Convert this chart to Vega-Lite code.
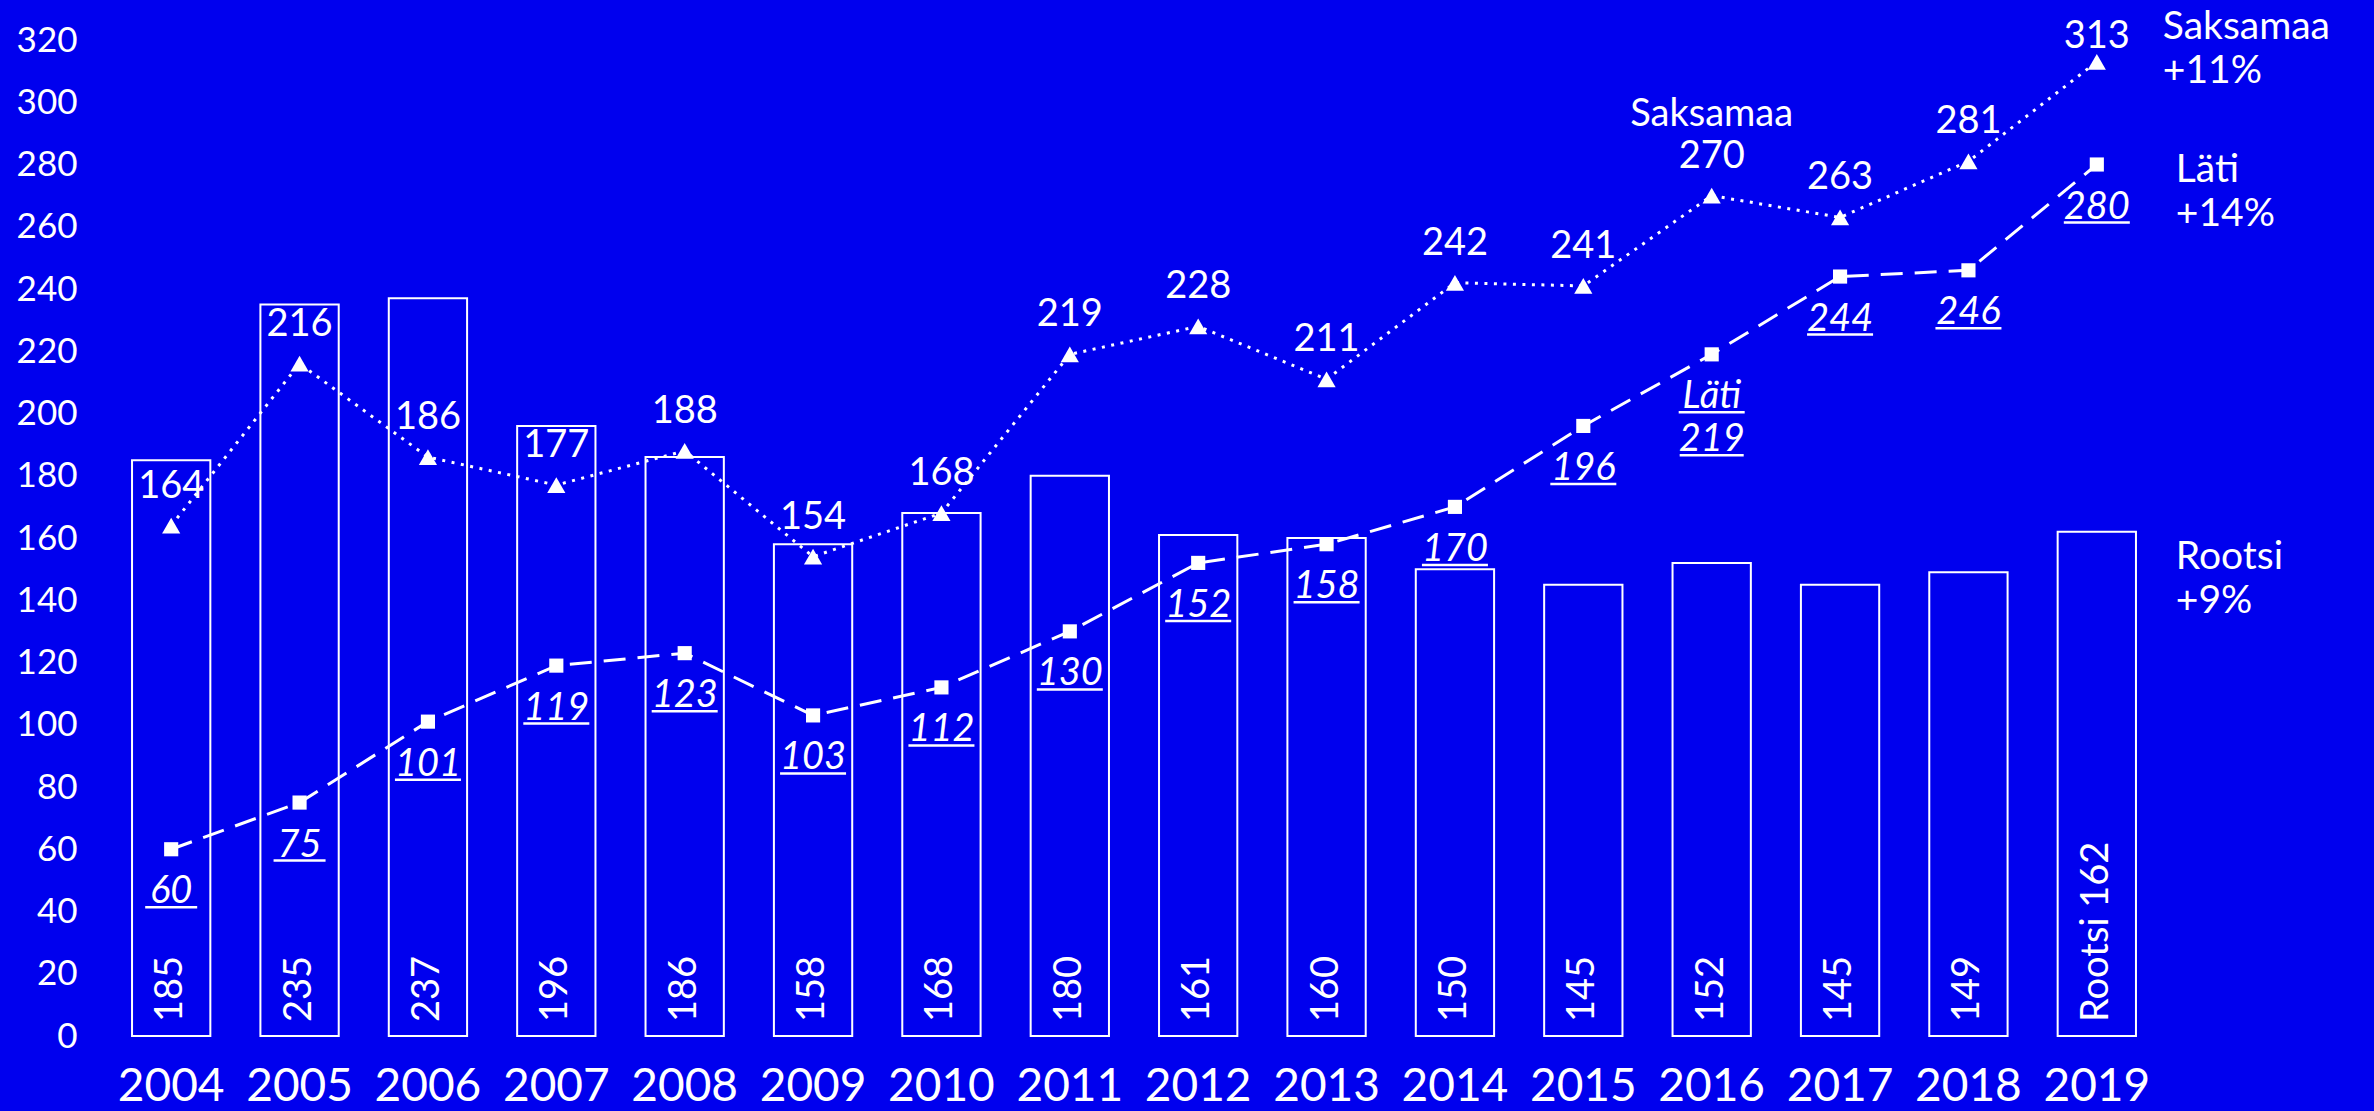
{
  "$schema": "https://vega.github.io/schema/vega-lite/v6.json",
  "width": 2054,
  "height": 996,
  "autosize": {"type": "none"},
  "padding": {"left": 107, "top": 40, "right": 213, "bottom": 75},
  "background": "#0000ee",
  "config": {"view": {"stroke": null}, "font": "Lato"},
  "datasets": {
    "main": [
      {"year": "2004", "rootsi": 185, "saksamaa": 164, "lati": 60, "rlabel": "185", "slabel": "164", "llabel": "60"},
      {"year": "2005", "rootsi": 235, "saksamaa": 216, "lati": 75, "rlabel": "235", "slabel": "216", "llabel": "75"},
      {"year": "2006", "rootsi": 237, "saksamaa": 186, "lati": 101, "rlabel": "237", "slabel": "186", "llabel": "101"},
      {"year": "2007", "rootsi": 196, "saksamaa": 177, "lati": 119, "rlabel": "196", "slabel": "177", "llabel": "119"},
      {"year": "2008", "rootsi": 186, "saksamaa": 188, "lati": 123, "rlabel": "186", "slabel": "188", "llabel": "123"},
      {"year": "2009", "rootsi": 158, "saksamaa": 154, "lati": 103, "rlabel": "158", "slabel": "154", "llabel": "103"},
      {"year": "2010", "rootsi": 168, "saksamaa": 168, "lati": 112, "rlabel": "168", "slabel": "168", "llabel": "112"},
      {"year": "2011", "rootsi": 180, "saksamaa": 219, "lati": 130, "rlabel": "180", "slabel": "219", "llabel": "130"},
      {"year": "2012", "rootsi": 161, "saksamaa": 228, "lati": 152, "rlabel": "161", "slabel": "228", "llabel": "152"},
      {"year": "2013", "rootsi": 160, "saksamaa": 211, "lati": 158, "rlabel": "160", "slabel": "211", "llabel": "158"},
      {"year": "2014", "rootsi": 150, "saksamaa": 242, "lati": 170, "rlabel": "150", "slabel": "242", "llabel": "170"},
      {"year": "2015", "rootsi": 145, "saksamaa": 241, "lati": 196, "rlabel": "145", "slabel": "241", "llabel": "196"},
      {"year": "2016", "rootsi": 152, "saksamaa": 270, "lati": 219, "rlabel": "152", "slabel": "Saksamaa\n270", "llabel": "Läti\n219"},
      {"year": "2017", "rootsi": 145, "saksamaa": 263, "lati": 244, "rlabel": "145", "slabel": "263", "llabel": "244"},
      {"year": "2018", "rootsi": 149, "saksamaa": 281, "lati": 246, "rlabel": "149", "slabel": "281", "llabel": "246"},
      {"year": "2019", "rootsi": 162, "saksamaa": 313, "lati": 280, "rlabel": "Rootsi 162", "slabel": "313", "llabel": "280"}
    ],
    "notes": [
      {"year": "2019", "value": 320.2, "note": "Saksamaa\n+11%", "series": "Saksamaa"},
      {"year": "2019", "value": 274.4, "note": "Läti\n+14%", "series": "Läti"},
      {"year": "2019", "value": 150.0, "note": "Rootsi\n+9%", "series": "Rootsi"}
    ]
  },
  "data": {"name": "main"},
  "encoding": {
    "x": {
      "field": "year",
      "type": "nominal",
      "sort": null,
      "scale": {"paddingInner": 0.39, "paddingOuter": 0.195},
      "axis": {
        "title": null,
        "labelAngle": 0,
        "labelFontSize": 46,
        "labelColor": "white",
        "labelBaseline": "top",
        "labelPadding": 28,
        "ticks": false,
        "tickSize": 0,
        "domain": false,
        "grid": false
      }
    }
  },
  "layer": [
    {
      "mark": {"type": "bar", "fill": "#0000ee", "stroke": "white", "strokeWidth": 2},
      "encoding": {
        "y": {
          "field": "rootsi",
          "type": "quantitative",
          "scale": {"domain": [0, 320], "nice": false},
          "axis": {
            "title": null,
            "values": [0, 20, 40, 60, 80, 100, 120, 140, 160, 180, 200, 220, 240, 260, 280, 300, 320],
            "labelFontSize": 35,
            "labelColor": "white",
            "labelPadding": 30,
            "ticks": false,
            "tickSize": 0,
            "domain": false,
            "grid": false
          }
        }
      }
    },
    {
      "mark": {"type": "text", "angle": 270, "align": "left", "baseline": "middle", "dx": 14, "fontSize": 38, "color": "white"},
      "encoding": {
        "y": {"datum": 0, "type": "quantitative", "scale": {"domain": [0, 320], "nice": false}},
        "text": {"field": "rlabel"}
      }
    },
    {
      "mark": {"type": "line", "stroke": "white", "strokeWidth": 3, "strokeDash": [3, 6.5]},
      "encoding": {
        "y": {"field": "saksamaa", "type": "quantitative", "scale": {"domain": [0, 320], "nice": false}}
      }
    },
    {
      "mark": {"type": "point", "shape": "triangle-up", "size": 330, "filled": true, "fill": "white", "opacity": 1, "strokeWidth": 0},
      "encoding": {
        "y": {"field": "saksamaa", "type": "quantitative", "scale": {"domain": [0, 320], "nice": false}}
      }
    },
    {
      "transform": [{"filter": "datum.year != '2019' && datum.year != '2016'"}],
      "mark": {"type": "text", "align": "center", "baseline": "alphabetic", "dy": -28, "fontSize": 38, "color": "white"},
      "encoding": {
        "y": {"field": "saksamaa", "type": "quantitative", "scale": {"domain": [0, 320], "nice": false}},
        "text": {"field": "slabel"}
      }
    },
    {
      "transform": [{"filter": "datum.year == '2016'"}],
      "mark": {"type": "text", "align": "center", "baseline": "alphabetic", "dy": -70, "fontSize": 38, "lineHeight": 42, "lineBreak": "\n", "color": "white"},
      "encoding": {
        "y": {"field": "saksamaa", "type": "quantitative", "scale": {"domain": [0, 320], "nice": false}},
        "text": {"field": "slabel"}
      }
    },
    {
      "transform": [{"filter": "datum.year == '2019'"}],
      "mark": {"type": "text", "align": "center", "baseline": "alphabetic", "dy": -14, "fontSize": 38, "color": "white"},
      "encoding": {
        "y": {"field": "saksamaa", "type": "quantitative", "scale": {"domain": [0, 320], "nice": false}},
        "text": {"field": "slabel"}
      }
    },
    {
      "mark": {"type": "line", "stroke": "white", "strokeWidth": 3, "strokeDash": [22, 12]},
      "encoding": {
        "y": {"field": "lati", "type": "quantitative", "scale": {"domain": [0, 320], "nice": false}}
      }
    },
    {
      "mark": {"type": "point", "shape": "square", "size": 200, "filled": true, "fill": "white", "opacity": 1, "strokeWidth": 0},
      "encoding": {
        "y": {"field": "lati", "type": "quantitative", "scale": {"domain": [0, 320], "nice": false}}
      }
    },
    {
      "mark": {"type": "text", "align": "center", "baseline": "top", "dy": 24, "fontSize": 38, "fontStyle": "italic", "lineHeight": 43, "lineBreak": "\n", "color": "white"},
      "encoding": {
        "y": {"field": "lati", "type": "quantitative", "scale": {"domain": [0, 320], "nice": false}},
        "text": {"field": "llabel"}
      }
    },
    {
      "mark": {"type": "tick", "orient": "horizontal", "thickness": 2.5, "yOffset": 58, "color": "white", "opacity": 1},
      "encoding": {
        "y": {"field": "lati", "type": "quantitative", "scale": {"domain": [0, 320], "nice": false}},
        "size": {"condition": {"test": "datum.lati < 100", "value": 52}, "value": 66}
      }
    },
    {
      "transform": [{"filter": "datum.year == '2016'"}],
      "mark": {"type": "tick", "orient": "horizontal", "thickness": 2.5, "yOffset": 101, "color": "white", "opacity": 1, "size": 64},
      "encoding": {
        "y": {"field": "lati", "type": "quantitative", "scale": {"domain": [0, 320], "nice": false}}
      }
    },
    {
      "data": {"name": "notes"},
      "transform": [{"filter": "datum.series == 'Saksamaa'"}],
      "mark": {"type": "text", "align": "left", "baseline": "alphabetic", "dx": 66, "fontSize": 39, "lineHeight": 44, "lineBreak": "\n", "color": "white"},
      "encoding": {
        "y": {"field": "value", "type": "quantitative", "scale": {"domain": [0, 320], "nice": false}},
        "text": {"field": "note"}
      }
    },
    {
      "data": {"name": "notes"},
      "transform": [{"filter": "datum.series != 'Saksamaa'"}],
      "mark": {"type": "text", "align": "left", "baseline": "alphabetic", "dx": 79, "fontSize": 39, "lineHeight": 44, "lineBreak": "\n", "color": "white"},
      "encoding": {
        "y": {"field": "value", "type": "quantitative", "scale": {"domain": [0, 320], "nice": false}},
        "text": {"field": "note"}
      }
    }
  ]
}
